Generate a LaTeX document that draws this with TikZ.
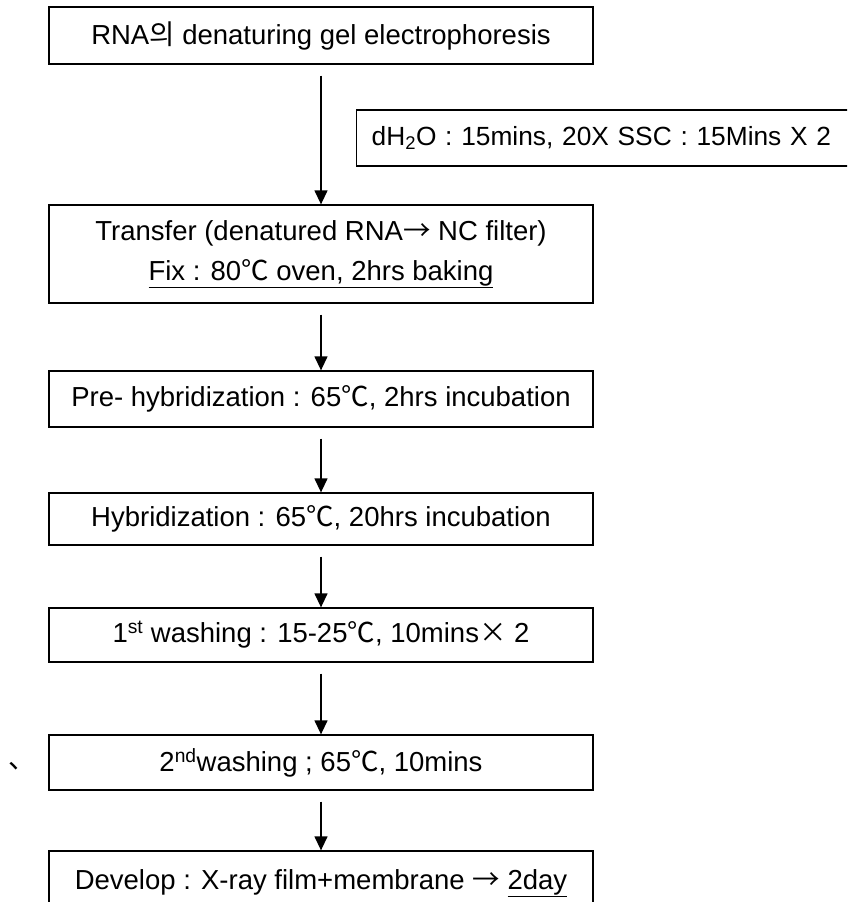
\documentclass[tikz,border=0pt]{standalone}
\usepackage{fontspec}
\setmainfont{Liberation Sans}
\newfontfamily\kr{Noto Sans CJK KR}
\usetikzlibrary{arrows.meta}
\tikzset{
  paso/.style={draw, line width=1.3pt, minimum width=544pt, inner sep=0pt, align=center, font=\fontsize{27.5}{40}\selectfont},
  flecha/.style={line width=1.3pt, -{Triangle[width=13pt,length=14pt]}}
}
\begin{document}
\begin{tikzpicture}[x=1pt, y=-1pt]
    \useasboundingbox (0,0) rectangle (847,902);
    \clip (0,0) rectangle (847,902);
    \node[paso, minimum height=57pt] (gel) at (321,35.5) {RNA{\kr 의} denaturing gel electrophoresis};
    \node[paso, minimum height=98pt] (transfer) at (321,254) {Transfer (denatured RNA{\kr →} NC filter)\\\underline{Fix : 80{\kr ℃} oven, 2hrs baking}};
    \node[paso, minimum height=56pt] (prehyb) at (321,399) {Pre- hybridization : 65{\kr ℃}, 2hrs incubation};
    \node[paso, minimum height=52pt] (hyb) at (321,519) {Hybridization : 65{\kr ℃}, 20hrs incubation};
    \node[paso, minimum height=54pt] (wash1) at (321,635) {1\textsuperscript{st} washing : 15-25{\kr ℃}, 10mins{\kr ×} 2};
    \node[paso, minimum height=55pt] (wash2) at (321,762.5) {2\textsuperscript{nd}washing ; 65{\kr ℃}, 10mins};
    \node[paso, minimum height=64pt] (develop) at (321,883) {Develop : X-ray film+membrane {\kr →} \underline{2day}};
    % nota lateral
    \node[draw, line width=1.3pt, anchor=west, minimum height=56pt, inner xsep=15pt, text width=520pt, align=left, font=\fontsize{26.3}{30}\selectfont] (lavado) at (356,138) {dH\textsubscript{2}O : 15mins, 20X SSC : 15Mins X 2};
    \node[font=\kr\fontsize{27.5}{28}\selectfont] (marca) at (22,766) {、};
    \draw[flecha] ([yshift=-11pt]gel.south) -- (transfer.north);
    \draw[flecha] ([yshift=-11pt]transfer.south) -- (prehyb.north);
    \draw[flecha] ([yshift=-11pt]prehyb.south) -- (hyb.north);
    \draw[flecha] ([yshift=-11pt]hyb.south) -- (wash1.north);
    \draw[flecha] ([yshift=-11pt]wash1.south) -- (wash2.north);
    \draw[flecha] ([yshift=-11pt]wash2.south) -- (develop.north);
\end{tikzpicture}
\end{document}
